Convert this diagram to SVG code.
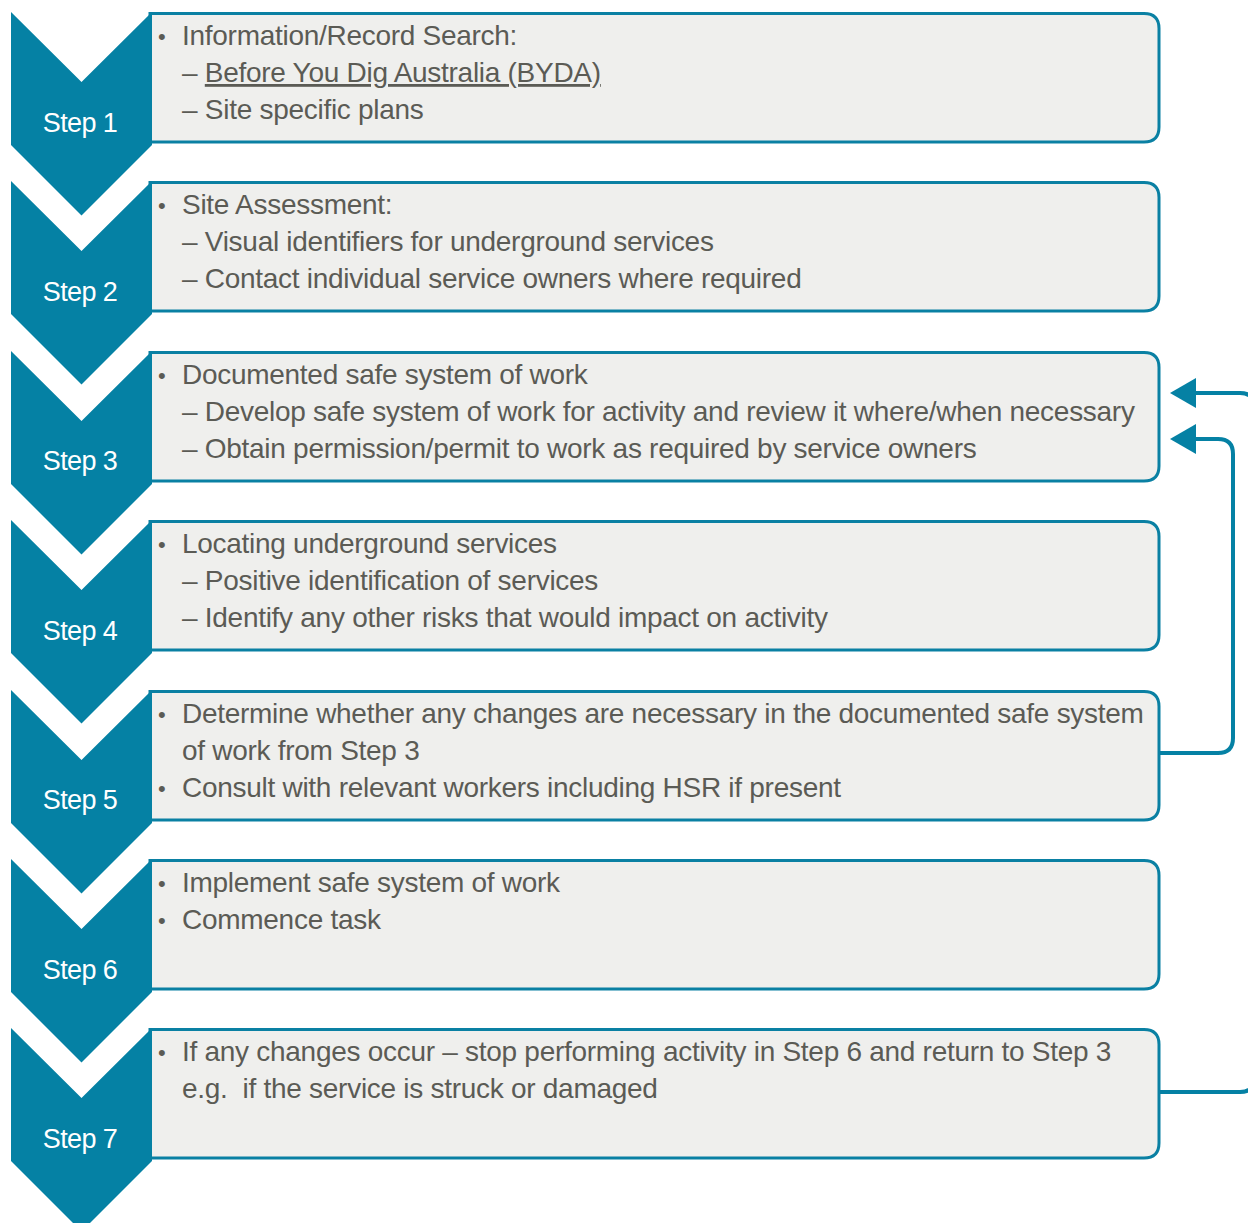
<svg xmlns="http://www.w3.org/2000/svg" width="1248" height="1223" viewBox="0 0 1248 1223">
<style>
.box{fill:#EFEFED;stroke:#0A80A3;stroke-width:3}
.chev{fill:#0581A4}
.step{font-family:"Liberation Sans",Arial,sans-serif;font-size:27px;fill:#fff;text-anchor:middle;letter-spacing:-0.6px}
.t{font-family:"Liberation Sans",Arial,sans-serif;font-size:28px;fill:#5B5B55;letter-spacing:-0.28px}
.b{font-family:"Liberation Sans",Arial,sans-serif;font-size:22px;fill:#5B5B55}
.u{text-decoration:underline}
.conn{fill:none;stroke:#0581A4;stroke-width:4}
</style>
<g id="connectors">
<path class="conn" d="M1160,753 H1218 Q1233,753 1233,738 V454 Q1233,439 1218,439 H1194"/>
<path d="M1170,439 L1196,424 L1196,454 Z" fill="#0581A4"/>
<path class="conn" d="M1160,1092 H1240 Q1255,1092 1255,1077 V408 Q1255,393 1240,393 H1194"/>
<path d="M1170,393 L1196,378 L1196,408 Z" fill="#0581A4"/>
</g>
<g id="step1">
<path class="box" d="M150,13.5 H1144 Q1159,13.5 1159,28.5 V127 Q1159,142 1144,142 H150 Z"/>
<path class="chev" d="M11,12 L81.5,82 L152,12 V145 L81.5,215.5 L11,145 Z"/>
<text class="step" x="80" y="132">Step 1</text>
<text class="b" x="158" y="44">•</text>
<text class="t" x="182" y="45">Information/Record Search:</text>
<text class="t" x="182" y="82">– <tspan class="u">Before You Dig Australia (BYDA)</tspan></text>
<text class="t" x="182" y="119">– Site specific plans</text>
</g>
<g id="step2">
<path class="box" d="M150,182.5 H1144 Q1159,182.5 1159,197.5 V296 Q1159,311 1144,311 H150 Z"/>
<path class="chev" d="M11,181 L81.5,251 L152,181 V314 L81.5,384.5 L11,314 Z"/>
<text class="step" x="80" y="301">Step 2</text>
<text class="b" x="158" y="213">•</text>
<text class="t" x="182" y="214">Site Assessment:</text>
<text class="t" x="182" y="251">– Visual identifiers for underground services</text>
<text class="t" x="182" y="288">– Contact individual service owners where required</text>
</g>
<g id="step3">
<path class="box" d="M150,352.5 H1144 Q1159,352.5 1159,367.5 V466 Q1159,481 1144,481 H150 Z"/>
<path class="chev" d="M11,351 L81.5,421 L152,351 V484 L81.5,554.5 L11,484 Z"/>
<text class="step" x="80" y="470">Step 3</text>
<text class="b" x="158" y="383">•</text>
<text class="t" x="182" y="384">Documented safe system of work</text>
<text class="t" x="182" y="421">– Develop safe system of work for activity and review it where/when necessary</text>
<text class="t" x="182" y="458">– Obtain permission/permit to work as required by service owners</text>
</g>
<g id="step4">
<path class="box" d="M150,521.5 H1144 Q1159,521.5 1159,536.5 V635 Q1159,650 1144,650 H150 Z"/>
<path class="chev" d="M11,520 L81.5,590 L152,520 V653 L81.5,723.5 L11,653 Z"/>
<text class="step" x="80" y="640">Step 4</text>
<text class="b" x="158" y="552">•</text>
<text class="t" x="182" y="553">Locating underground services</text>
<text class="t" x="182" y="590">– Positive identification of services</text>
<text class="t" x="182" y="627">– Identify any other risks that would impact on activity</text>
</g>
<g id="step5">
<path class="box" d="M150,691.5 H1144 Q1159,691.5 1159,706.5 V805 Q1159,820 1144,820 H150 Z"/>
<path class="chev" d="M11,690 L81.5,760 L152,690 V823 L81.5,893.5 L11,823 Z"/>
<text class="step" x="80" y="809">Step 5</text>
<text class="b" x="158" y="722">•</text>
<text class="t" x="182" y="723">Determine whether any changes are necessary in the documented safe system</text>
<text class="t" x="182" y="760">of work from Step 3</text>
<text class="b" x="158" y="796">•</text>
<text class="t" x="182" y="797">Consult with relevant workers including HSR if present</text>
</g>
<g id="step6">
<path class="box" d="M150,860.5 H1144 Q1159,860.5 1159,875.5 V974 Q1159,989 1144,989 H150 Z"/>
<path class="chev" d="M11,859 L81.5,929 L152,859 V992 L81.5,1062.5 L11,992 Z"/>
<text class="step" x="80" y="979">Step 6</text>
<text class="b" x="158" y="891">•</text>
<text class="t" x="182" y="892">Implement safe system of work</text>
<text class="b" x="158" y="928">•</text>
<text class="t" x="182" y="929">Commence task</text>
</g>
<g id="step7">
<path class="box" d="M150,1029.5 H1144 Q1159,1029.5 1159,1044.5 V1143 Q1159,1158 1144,1158 H150 Z"/>
<path class="chev" d="M11,1028 L81.5,1098 L152,1028 V1161 L81.5,1231.5 L11,1161 Z"/>
<text class="step" x="80" y="1148">Step 7</text>
<text class="b" x="158" y="1060">•</text>
<text class="t" x="182" y="1061">If any changes occur – stop performing activity in Step 6 and return to Step 3</text>
<text class="t" x="182" y="1098">e.g.&#160; if the service is struck or damaged</text>
</g>
</svg>
